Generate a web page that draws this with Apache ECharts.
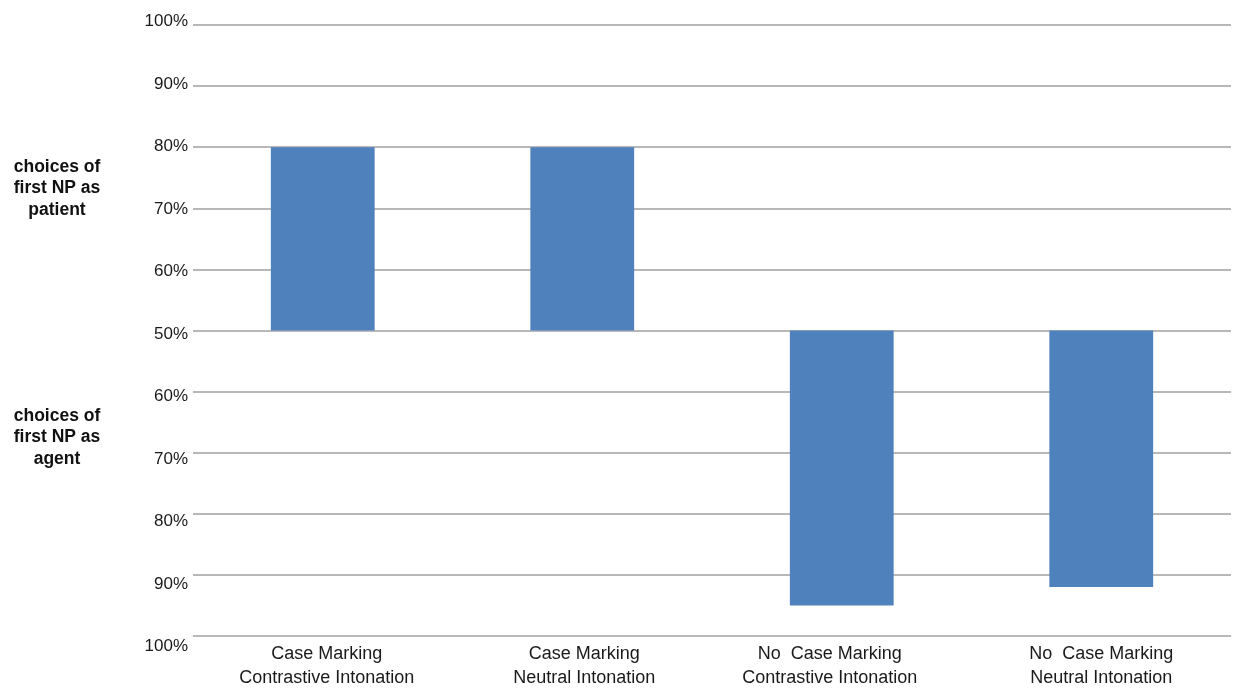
<!DOCTYPE html>
<html>
<head>
<meta charset="utf-8">
<script src="https://cdn.jsdelivr.net/npm/echarts@6/dist/echarts.min.js"></script>
<style>
html,body{margin:0;padding:0;background:#fff;}
#chart{width:1237px;height:688px;}
</style>
</head>
<body>
<div id="chart"></div>
<script>
const categories = [
  'Case Marking\nContrastive Intonation',
  'Case Marking\nNeutral Intonation',
  'No  Case Marking\nContrastive Intonation',
  'No  Case Marking\nNeutral Intonation'
];
// percentage of choices of first NP as patient (bars going up from 50%)
const patientPct = [80, 80, null, null];
// percentage of choices of first NP as agent (bars going down from 50%)
const agentPct = [null, null, 95, 92];
// tick values relative to the 50% midline
const tickMin = -50, tickMax = 50, tickStep = 10;

const fmt = v => (50 + Math.abs(v)) + '%';
const font = '"Liberation Sans", Arial, sans-serif';

// small per-category horizontal label nudges
const nudges = [4, 2, -12, 0];
const rich = {};
nudges.forEach((dx, i) => {
  rich['a' + i] = {
    color: '#1a1a1a', fontFamily: font, fontSize: 18, lineHeight: 24,
    padding: [0, dx < 0 ? -dx * 2 : 0, 0, dx > 0 ? dx * 2 : 0]
  };
});

const chart = echarts.init(document.getElementById('chart'));
chart.setOption({
  animation: false,
  backgroundColor: '#fff',
  grid: [
    {left: 193, right: 6, top: 25, bottom: 52, containLabel: false, outerBoundsMode: 'none'},
    {left: 193, right: 6, top: 21.7, bottom: 41.3, containLabel: false, outerBoundsMode: 'none'}
  ],
  xAxis: [
    {
      type: 'category', gridIndex: 0, data: categories,
      axisLine: {show: false}, axisTick: {show: false},
      axisLabel: {
        color: '#1a1a1a', fontFamily: font, fontSize: 18, lineHeight: 24,
        margin: 6, interval: 0,
        formatter: (v, i) => v.split('\n').map(p => '{a' + i + '|' + p + '}').join('\n'),
        rich: rich
      }
    },
    {type: 'category', gridIndex: 1, data: categories, show: false}
  ],
  yAxis: [
    {
      type: 'value', gridIndex: 0, min: tickMin, max: tickMax, interval: tickStep,
      axisLabel: {show: false}, axisLine: {show: false}, axisTick: {show: false},
      splitLine: {lineStyle: {color: '#a0a0a0', width: 1.5}}
    },
    {
      type: 'value', gridIndex: 1, min: tickMin, max: tickMax, interval: tickStep,
      axisLine: {show: false}, axisTick: {show: false}, splitLine: {show: false},
      axisLabel: {formatter: fmt, color: '#1a1a1a', fontFamily: font, fontSize: 17, margin: 5}
    }
  ],
  graphic: [
    {type: 'text', x: 57, y: 156, style: {text: 'choices of\nfirst NP as\npatient', align: 'center', fill: '#111', font: 'bold 17.5px "Liberation Sans", Arial, sans-serif', lineHeight: 21.5}},
    {type: 'text', x: 57, y: 405, style: {text: 'choices of\nfirst NP as\nagent', align: 'center', fill: '#111', font: 'bold 17.5px "Liberation Sans", Arial, sans-serif', lineHeight: 21.5}}
  ],
  series: [
    {
      type: 'bar', xAxisIndex: 0, yAxisIndex: 0, barWidth: '40%', barGap: '-100%',
      data: patientPct.map(v => v == null ? null : v - 50),
      itemStyle: {color: '#4f81bd'}
    },
    {
      type: 'bar', xAxisIndex: 0, yAxisIndex: 0, barWidth: '40%', barGap: '-100%',
      data: agentPct.map(v => v == null ? null : -(v - 50)),
      itemStyle: {color: '#4f81bd'}
    }
  ]
});
</script>
</body>
</html>
